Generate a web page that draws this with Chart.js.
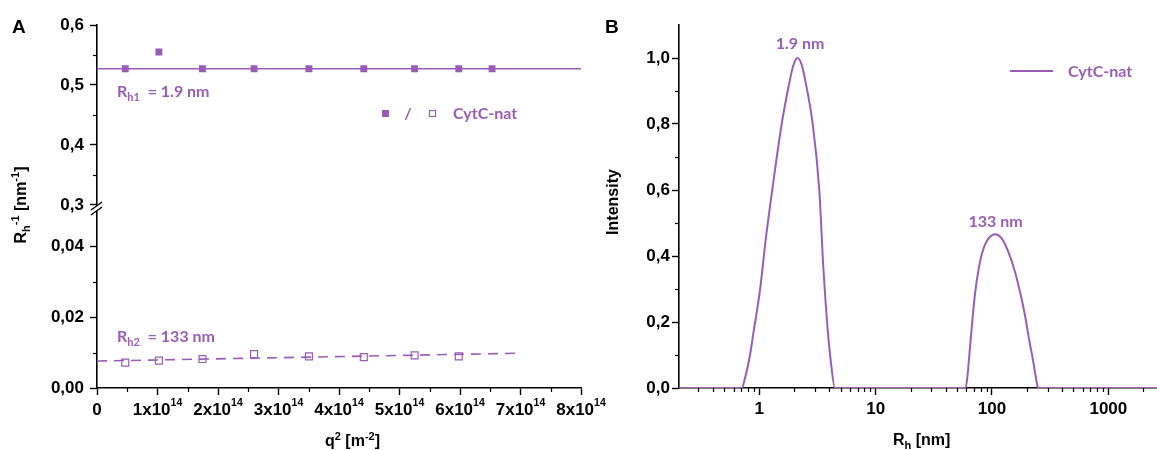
<!DOCTYPE html>
<html>
<head>
<meta charset="utf-8">
<title>CytC-nat</title>
<script src="https://cdn.jsdelivr.net/npm/chart.js@4.4.1/dist/chart.umd.min.js"></script>
<style>
  html, body { margin: 0; padding: 0; background: #fff; }
  #wrap { position: relative; width: 1157px; height: 450px; overflow: hidden; }
  canvas { position: absolute; top: 0; }
  #chartA { left: 0; }
  #chartB { left: 590px; }
</style>
</head>
<body>
<div id="wrap">
  <canvas id="chartA" width="625" height="450"></canvas>
  <canvas id="chartB" width="567" height="450"></canvas>
</div>
<script>
// ---- panel A : Rh^-1 against q^2 ----
var q2 = [0.467e14, 1.023e14, 1.743e14, 2.596e14, 3.503e14, 4.41e14, 5.25e14, 5.98e14, 6.53e14];
var rh1Inv = [0.527, 0.555, 0.527, 0.527, 0.527, 0.527, 0.527, 0.527, 0.527];
var q2Slow = [0.467e14, 1.023e14, 1.743e14, 2.596e14, 3.503e14, 4.41e14, 5.25e14, 5.98e14];
var rh2Inv = [0.00715, 0.00772, 0.00817, 0.00958, 0.00893, 0.00873, 0.00921, 0.00893];
var fit1X = [0, 8e14];
var fit1Y = [0.527, 0.527];
var fit2X = [0, 6.93e14];
var fit2Y = [0.0076, 0.0098];
var qTicks = [0, 1e14, 2e14, 3e14, 4e14, 5e14, 6e14, 7e14, 8e14];
var qMinor = [0.5e14, 1.5e14, 2.5e14, 3.5e14, 4.5e14, 5.5e14, 6.5e14, 7.5e14];
var topTicks = [0.3, 0.4, 0.5, 0.6];
var topMinor = [0.35, 0.45, 0.55];
var botTicks = [0, 0.02, 0.04];
var botMinor = [0.01, 0.03];

// ---- panel B : size distribution ----
var rh = [0.2, 0.5, 0.706, 0.754, 0.832, 0.888, 1.014, 1.135, 1.303, 1.557, 1.811, 1.95, 2.12,
  2.312, 2.504, 2.876, 3.277, 3.547, 3.893, 4.106, 4.47, 10, 30,
  59.3, 61.7, 64.6, 67.7, 71.3, 76.1, 81.4, 89.8, 105.9, 120.8, 137.9, 157.3, 173.6, 191.7,
  207.5, 226.1, 241.5, 249.6, 1000, 2620];
var intensity = [0, 0, 0, 0.03, 0.10, 0.165, 0.297, 0.45, 0.61, 0.8, 0.925, 0.975, 1.0,
  0.98, 0.925, 0.8, 0.6, 0.368, 0.165, 0.084, 0, 0, 0,
  0, 0.040, 0.121, 0.202, 0.282, 0.353, 0.403, 0.444, 0.466, 0.454, 0.413, 0.353, 0.293, 0.222,
  0.151, 0.081, 0.020, 0, 0, 0];
var rhTicks = [1, 10, 100, 1000];
var rhMinor = [0.3, 0.4, 0.5, 0.6, 0.7, 0.8, 0.9, 2, 3, 4, 5, 6, 7, 8, 9, 20, 30, 40, 50, 60, 70, 80, 90,
  200, 300, 400, 500, 600, 700, 800, 900, 2000];
var intTicks = [0, 0.2, 0.4, 0.6, 0.8, 1.0];
var intMinor = [0.1, 0.3, 0.5, 0.7, 0.9];

var purple = '#9a5db6';
var TICK = 'bold 17px "Liberation Sans"';
var SUP = 'bold 10.5px "Liberation Sans"';
var TITLE = 'bold 16px "Liberation Sans"';
var TITLE_S = 'bold 11px "Liberation Sans"';
var NOTE = 'bold 16px Lato';
var NOTE_S = 'bold 11px Lato';
var PANEL = 'bold 19px "Liberation Sans"';

function pts(xs, ys) {
  return xs.map(function (x, i) { return { x: x, y: ys[i] }; });
}

function drawRich(ctx, parts, x, y, opt) {
  opt = opt || {};
  ctx.save();
  ctx.translate(x, y);
  if (opt.rotate) ctx.rotate(opt.rotate);
  ctx.fillStyle = opt.color || '#000';
  ctx.textBaseline = 'alphabetic';
  ctx.textAlign = 'left';
  var w = 0;
  parts.forEach(function (p) { ctx.font = p[1]; p.w = ctx.measureText(p[0]).width; w += p.w; });
  var cx = opt.align === 'center' ? -w / 2 : 0;
  parts.forEach(function (p) { ctx.font = p[1]; ctx.fillText(p[0], cx, p[2] || 0); cx += p.w; });
  ctx.restore();
}

function minorTicks(chart, id, values, len) {
  var s = chart.scales[id], ctx = chart.ctx;
  ctx.save();
  ctx.strokeStyle = '#000';
  ctx.lineWidth = 1.2;
  values.forEach(function (v) {
    var p = Math.round(s.getPixelForValue(v)) + 0.5;
    ctx.beginPath();
    if (s.isHorizontal()) { ctx.moveTo(p, s.top); ctx.lineTo(p, s.top + len); }
    else { ctx.moveTo(s.right, p); ctx.lineTo(s.right - len, p); }
    ctx.stroke();
  });
  ctx.restore();
}

function axisStyle(extra) {
  var base = {
    grid: { display: true, drawOnChartArea: false, drawTicks: true, tickLength: 7, tickWidth: 1.4, tickColor: '#000' },
    border: { display: true, color: '#000', width: 1.6 },
    ticks: { color: '#000', font: { family: 'Liberation Sans', size: 17, weight: 'bold' }, autoSkip: false, maxRotation: 0 }
  };
  Object.keys(extra).forEach(function (k) {
    if (k === 'ticks') Object.assign(base.ticks, extra.ticks);
    else base[k] = extra[k];
  });
  return base;
}

function setTicks(list) {
  return function (s) { s.ticks = list.map(function (v) { return { value: v }; }); };
}

var decoA = {
  id: 'decoA',
  afterDraw: function (chart) {
    var ctx = chart.ctx, x = chart.scales.x, yT = chart.scales.yTop;
    minorTicks(chart, 'x', qMinor, 4);
    minorTicks(chart, 'yTop', topMinor, 4);
    minorTicks(chart, 'yBot', botMinor, 4);

    // axis break
    var ax = yT.right, yb = 209;
    ctx.save();
    ctx.fillStyle = '#fff';
    ctx.beginPath();
    ctx.moveTo(ax - 6, yb + 1); ctx.lineTo(ax + 5, yb - 7); ctx.lineTo(ax + 5, yb - 2); ctx.lineTo(ax - 6, yb + 6);
    ctx.closePath(); ctx.fill();
    ctx.strokeStyle = '#000'; ctx.lineWidth = 1.4;
    ctx.beginPath();
    ctx.moveTo(ax - 6, yb + 1); ctx.lineTo(ax + 5, yb - 7);
    ctx.moveTo(ax - 6, yb + 6); ctx.lineTo(ax + 5, yb - 2);
    ctx.stroke();
    ctx.restore();

    // x tick labels with exponent
    qTicks.forEach(function (v) {
      var p = x.getPixelForValue(v);
      if (v === 0) drawRich(ctx, [['0', TICK]], p, 415, { align: 'center' });
      else drawRich(ctx, [[Math.round(v / 1e14) + 'x10', TICK], ['14', SUP, -9]], p, 415, { align: 'center' });
    });

    drawRich(ctx, [['A', PANEL]], 12, 33);
    drawRich(ctx, [['q', TITLE], ['2', TITLE_S, -6], [' [m', TITLE], ['-2', TITLE_S, -6], [']', TITLE]], 325, 446);
    drawRich(ctx, [['R', TITLE], ['h', TITLE_S, 4], ['-1', TITLE_S, -7], [' [nm', TITLE], ['-1', TITLE_S, -7], [']', TITLE]],
      26, 205, { align: 'center', rotate: -Math.PI / 2 });

    drawRich(ctx, [['R', NOTE], ['h1', NOTE_S, 4], ['  = 1.9 nm', NOTE]], 117, 97, { color: purple });
    drawRich(ctx, [['R', NOTE], ['h2', NOTE_S, 4], ['  = 133 nm', NOTE]], 117, 342, { color: purple });

    // legend
    ctx.save();
    ctx.fillStyle = purple;
    ctx.fillRect(382, 110, 7, 7);
    ctx.strokeStyle = purple; ctx.lineWidth = 1.2;
    ctx.fillStyle = '#fff';
    ctx.fillRect(429, 110, 7, 7);
    ctx.strokeRect(429.5, 110.5, 6, 6);
    ctx.restore();
    drawRich(ctx, [['/', NOTE]], 408, 119, { align: 'center', color: purple });
    drawRich(ctx, [['CytC-nat', NOTE]], 453, 119, { color: purple });
  }
};

new Chart(document.getElementById('chartA'), {
  type: 'scatter',
  data: {
    datasets: [
      { label: 'fit 1', data: pts(fit1X, fit1Y), yAxisID: 'yTop', showLine: true, borderColor: purple, borderWidth: 1.6, pointRadius: 0 },
      { label: 'CytC-nat fast', data: pts(q2, rh1Inv), yAxisID: 'yTop', pointStyle: 'rect', pointRadius: 4.9,
        backgroundColor: purple, borderColor: purple, borderWidth: 0 },
      { label: 'fit 2', data: pts(fit2X, fit2Y), yAxisID: 'yBot', showLine: true, borderColor: purple, borderWidth: 1.6,
        borderDash: [10, 7], pointRadius: 0 },
      { label: 'CytC-nat slow', data: pts(q2Slow, rh2Inv), yAxisID: 'yBot', pointStyle: 'rect', pointRadius: 4.9,
        backgroundColor: '#fff', borderColor: purple, borderWidth: 1.2 }
    ]
  },
  options: {
    responsive: false,
    animation: false,
    devicePixelRatio: 1,
    layout: { padding: { top: 25, right: 44, left: 0, bottom: 0 } },
    plugins: { legend: { display: false }, tooltip: { enabled: false } },
    scales: {
      x: axisStyle({ type: 'linear', min: 0, max: 8e14, afterBuildTicks: setTicks(qTicks),
        afterFit: function (s) { s.height = 62; }, ticks: { display: false } }),
      yTop: axisStyle({ type: 'linear', position: 'left', stack: 'A', stackWeight: 185.5, weight: 2, min: 0.29, max: 0.6,
        afterBuildTicks: setTicks(topTicks), afterFit: function (s) { s.width = 97; },
        ticks: { padding: 6, callback: function (v) { return v.toFixed(1).replace('.', ','); } } }),
      yBot: axisStyle({ type: 'linear', position: 'left', stack: 'A', stackWeight: 176.9, weight: 1, min: 0, max: 0.05,
        afterBuildTicks: setTicks(botTicks), afterFit: function (s) { s.width = 97; },
        ticks: { padding: 6, callback: function (v) { return v.toFixed(2).replace('.', ','); } } })
    }
  },
  plugins: [decoA]
});

var decoB = {
  id: 'decoB',
  afterDraw: function (chart) {
    var ctx = chart.ctx;
    minorTicks(chart, 'x', rhMinor, 4);
    minorTicks(chart, 'y', intMinor, 4);
    drawRich(ctx, [['B', PANEL]], 15, 33);
    drawRich(ctx, [['R', TITLE], ['h', TITLE_S, 4], [' [nm]', TITLE]], 303, 445);
    drawRich(ctx, [['Intensity', TITLE]], 28, 202, { align: 'center', rotate: -Math.PI / 2 });
    drawRich(ctx, [['1.9 nm', NOTE]], 210, 49, { align: 'center', color: purple });
    drawRich(ctx, [['133 nm', NOTE]], 405.5, 227, { align: 'center', color: purple });
    ctx.save();
    ctx.strokeStyle = purple; ctx.lineWidth = 2;
    ctx.beginPath(); ctx.moveTo(420, 71); ctx.lineTo(463, 71); ctx.stroke();
    ctx.restore();
    drawRich(ctx, [['CytC-nat', NOTE]], 478, 77, { color: purple });
  }
};

new Chart(document.getElementById('chartB'), {
  type: 'scatter',
  data: {
    datasets: [
      { label: 'CytC-nat', data: pts(rh, intensity), showLine: true, borderColor: purple, borderWidth: 2,
        pointRadius: 0, cubicInterpolationMode: 'monotone' }
    ]
  },
  options: {
    responsive: false,
    animation: false,
    devicePixelRatio: 1,
    layout: { padding: { top: 25, right: 0, left: 0, bottom: 0 } },
    plugins: { legend: { display: false }, tooltip: { enabled: false } },
    scales: {
      x: axisStyle({ type: 'logarithmic', min: 0.204, max: 2620, afterBuildTicks: setTicks(rhTicks),
        afterFit: function (s) { s.height = 62; },
        ticks: { padding: 4, callback: function (v) { return String(v); } } }),
      y: axisStyle({ type: 'linear', min: 0, max: 1.1, afterBuildTicks: setTicks(intTicks),
        afterFit: function (s) { s.width = 89; },
        ticks: { padding: 2, callback: function (v) { return v.toFixed(1).replace('.', ','); } } })
    }
  },
  plugins: [decoB]
});
</script>
</body>
</html>
